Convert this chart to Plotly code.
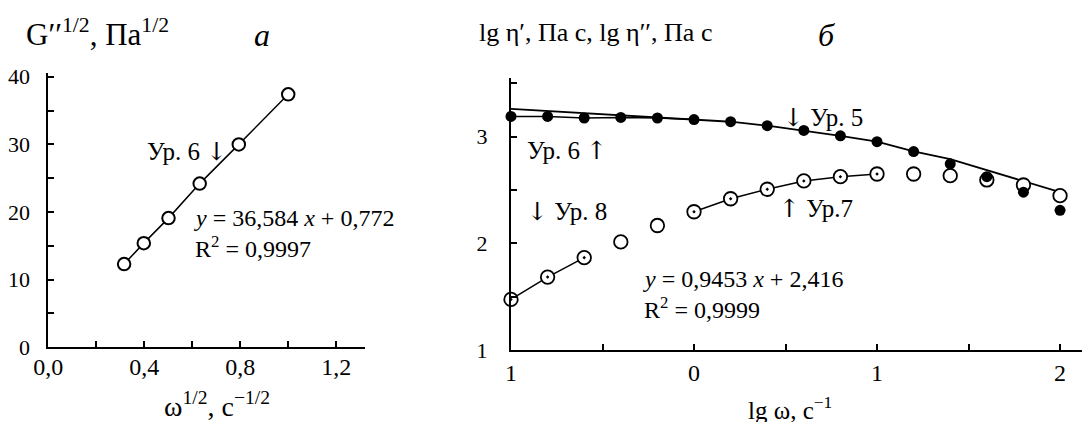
import plotly.graph_objects as go

# ---------- data: panel a ----------
sqrt_w = [0.316, 0.398, 0.501, 0.631, 0.794, 1.0]
g2_sqrt = [12.3, 15.4, 19.1, 24.2, 30.0, 37.4]
a_xticks = [0.0, 0.4, 0.8, 1.2]
a_xticktext = ["0,0", "0,4", "0,8", "1,2"]
a_yticks = [0, 10, 20, 30, 40]

# ---------- data: panel б ----------
lgw = [-1.0, -0.8, -0.6, -0.4, -0.2, 0.0, 0.2, 0.4, 0.6, 0.8, 1.0, 1.2, 1.4, 1.6, 1.8, 2.0]
lg_eta1 = [3.19, 3.19, 3.175, 3.18, 3.175, 3.16, 3.14, 3.103, 3.058, 3.008, 2.953, 2.86, 2.745, 2.625, 2.48, 2.31]
lg_eta2 = [1.474, 1.684, 1.866, 2.013, 2.167, 2.296, 2.418, 2.507, 2.585, 2.625, 2.65, 2.65, 2.634, 2.594, 2.547, 2.447]
# which eta'' points are drawn with a centre dot
eta2_dotted = [True, True, True, False, False, True, True, True, True, True, True, False, False, False, False, False]
# model curve (eq. 5)
ur5_x = [-1.0, 0.0, 0.2, 0.4, 0.6, 0.8, 1.0, 1.2, 1.4, 2.0]
ur5_y = [3.26, 3.165, 3.14, 3.103, 3.058, 3.008, 2.953, 2.862, 2.79, 2.48]
b_xticks = [-1, 0, 1, 2]
b_xticktext = ["1", "0", "1", "2"]
b_yticks = [1, 2, 3]

# index ranges for the fitted segments
ur6_idx = range(0, 6)     # eta' from -1 to 0
ur7_idx = range(5, 11)    # eta'' from 0 to 1
ur8_idx = range(0, 3)     # eta'' from -1 to -0.6

W, H = 1083, 422
FONT = "Liberation Serif, Times New Roman, serif"
ARROW_FONT = "DejaVu Serif"


def px(x):
    return x / W


def py(y):
    return 1 - y / H


def arrow(ch):
    return f'<span style="font-family:{ARROW_FONT}">{ch}</span>'


fig = go.Figure()

# panel a
fig.add_trace(go.Scatter(
    x=sqrt_w, y=g2_sqrt, mode="lines+markers", xaxis="x", yaxis="y",
    line=dict(color="black", width=1.5),
    marker=dict(symbol="circle", size=12.5, color="white", line=dict(color="black", width=2)),
    cliponaxis=False, showlegend=False, hoverinfo="skip"))

# panel b lines
fig.add_trace(go.Scatter(x=ur5_x, y=ur5_y, mode="lines", xaxis="x2", yaxis="y2",
                         line=dict(color="black", width=1.8), showlegend=False, cliponaxis=False,
                         hoverinfo="skip"))
fig.add_trace(go.Scatter(x=[lgw[i] for i in ur6_idx], y=[lg_eta1[i] for i in ur6_idx], mode="lines",
                         xaxis="x2", yaxis="y2", line=dict(color="black", width=1.5),
                         showlegend=False, cliponaxis=False, hoverinfo="skip"))
fig.add_trace(go.Scatter(x=[lgw[i] for i in ur7_idx], y=[lg_eta2[i] for i in ur7_idx], mode="lines",
                         xaxis="x2", yaxis="y2", line=dict(color="black", width=1.5),
                         showlegend=False, cliponaxis=False, hoverinfo="skip"))
fig.add_trace(go.Scatter(x=[lgw[i] for i in ur8_idx], y=[lg_eta2[i] for i in ur8_idx], mode="lines",
                         xaxis="x2", yaxis="y2", line=dict(color="black", width=1.5),
                         showlegend=False, cliponaxis=False, hoverinfo="skip"))

# eta'' markers
fig.add_trace(go.Scatter(
    x=lgw, y=lg_eta2, mode="markers", xaxis="x2", yaxis="y2",
    marker=dict(symbol=["circle-dot" if d else "circle" for d in eta2_dotted], size=13.5,
                color="white", line=dict(color="black", width=1.8)),
    showlegend=False, cliponaxis=False, hoverinfo="skip"))
# eta' markers
fig.add_trace(go.Scatter(
    x=lgw, y=lg_eta1, mode="markers", xaxis="x2", yaxis="y2",
    marker=dict(symbol="circle", size=11, color="black", line=dict(width=0)),
    showlegend=False, cliponaxis=False, hoverinfo="skip"))

axis_common = dict(showline=True, linecolor="black", linewidth=2, ticks="inside", ticklen=6,
                   tickwidth=2, tickcolor="black", showgrid=False, zeroline=False,
                   automargin=False, fixedrange=True)
xtick_font = dict(family=FONT, size=24, color="black")
ytick_font = dict(family=FONT, size=22, color="black")
minor_style = dict(ticks="inside", ticklen=6, tickwidth=2, tickcolor="black", showgrid=False)

fig.update_layout(
    template="none",
    width=W, height=H, margin=dict(l=0, r=0, t=0, b=0, pad=0),
    plot_bgcolor="white", paper_bgcolor="white",
    font=dict(family=FONT, color="black"),
    xaxis=dict(domain=[px(48.3), px(365)], range=[0, 1.32],
               tickvals=a_xticks, ticktext=a_xticktext, tickfont=xtick_font,
               minor=dict(dtick=0.2, tick0=0, **minor_style),
               ticklabelstandoff=-3, anchor="y", **axis_common),
    yaxis=dict(domain=[py(347.3), py(72.7)], range=[0, 40.6],
               tickvals=a_yticks, tickfont=ytick_font,
               minor=dict(dtick=5, tick0=0, **minor_style),
               ticklabelstandoff=12, anchor="x", **axis_common),
    xaxis2=dict(domain=[px(511), px(1082)], range=[-1, 2.12],
                tickvals=b_xticks, ticktext=b_xticktext, tickfont=xtick_font,
                minor=dict(dtick=0.5, tick0=0, **minor_style),
                ticklabelstandoff=0, anchor="y2", **axis_common),
    yaxis2=dict(domain=[py(350), py(78)], range=[1, 3.55],
                tickvals=b_yticks, tickfont=ytick_font,
                minor=dict(dtick=0.5, tick0=0, **minor_style),
                ticklabelstandoff=17, anchor="x2", **axis_common),
)


def note(text, x, y, size=21, xanchor="left"):
    fig.add_annotation(text=text, x=px(x), y=py(y), xref="paper", yref="paper",
                       xanchor=xanchor, yanchor="middle", showarrow=False, borderpad=0,
                       font=dict(family=FONT, size=size, color="black"))


# panel a texts
note("G′′<sup>1/2</sup>, Па<sup>1/2</sup>", 25, 32, size=31)
note("<i>а</i>", 262, 35, size=32, xanchor="center")
note("Ур. 6 " + arrow("↓"), 146, 152, size=25)
note("<i>y</i> = 36,584 <i>x</i> + 0,772", 193, 218, size=24)
note("R<sup>2</sup> = 0,9997", 194, 247, size=24)
note("ω<sup>1/2</sup>, c<sup>−1/2</sup>", 217, 404, size=28, xanchor="center")

# panel b texts
note("lg η′, Па с, lg η′′, Па с", 478, 32, size=26)
note("<i>б</i>", 826, 35, size=32, xanchor="center")
note(arrow("↓") + " Ур. 5", 782, 117, size=25)
note("Ур. 6 " + arrow("↑"), 526, 150, size=25)
note(arrow("↓") + " Ур. 8", 526, 211, size=25)
note(arrow("↑") + " Ур.7", 778, 208, size=25)
note("<i>y</i> = 0,9453 <i>x</i> + 2,416", 642, 279, size=24)
note("R<sup>2</sup> = 0,9999", 643, 308, size=24)
note("lg ω, c<sup>−1</sup>", 790, 408, size=25, xanchor="center")

fig.write_html("out.html", config={"displayModeBar": False, "staticPlot": True},
               post_script="document.body.style.margin='0px';document.body.style.overflow='hidden';")
